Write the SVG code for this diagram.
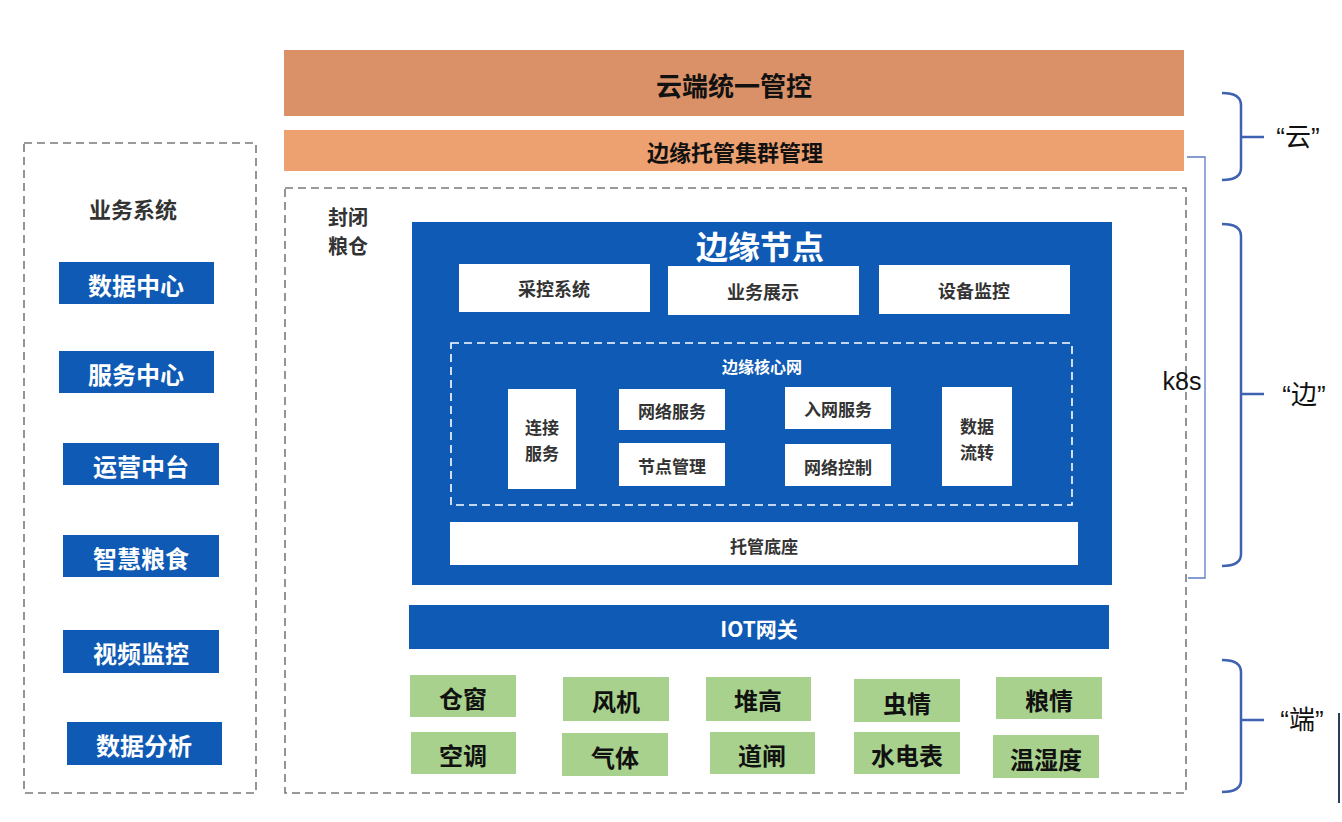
<svg xmlns="http://www.w3.org/2000/svg" width="1342" height="822" viewBox="0 0 1342 822">
<style>
text{font-family:"Noto Sans CJK SC","Liberation Sans",sans-serif;text-anchor:middle;dominant-baseline:central;font-weight:bold}
.blue{fill:#0F5AB4}
.white{fill:#FFFFFF}
.green{fill:#A9D18E}
.dash{fill:none;stroke:#7A7A7A;stroke-width:1.6;stroke-dasharray:8 5}
.wdash{fill:none;stroke:#FFFFFF;stroke-width:1.6;stroke-dasharray:8 5}
.wt{fill:#FFFFFF}
.dt{fill:#333333}
.bt{fill:#111111}
.brace{fill:none;stroke:#3F62B0;stroke-width:2.5}
.side{font-family:"Liberation Sans","Noto Sans CJK SC",sans-serif;font-weight:normal;fill:#111;font-size:26px}
</style>
<rect width="1342" height="822" fill="#FFFFFF"/>

<g id="cloud-control">
<rect x="284" y="50" width="900" height="66" fill="#DA9168"/>
<text x="734" y="84" font-size="26" class="bt">云端统一管控</text>
</g>
<g id="cluster-mgmt">
<rect x="284" y="130" width="900" height="41" fill="#EEA170"/>
<text x="735" y="151" font-size="22" class="bt">边缘托管集群管理</text>
</g>

<g id="business-system">
<rect x="24" y="143" width="232" height="650" class="dash"/>
<text x="133" y="208" font-size="22" class="dt">业务系统</text>
</g>
<g id="biz-data-center"><rect x="59" y="262" width="155" height="42" class="blue"/><text x="136" y="284" font-size="24" class="wt">数据中心</text></g>
<g id="biz-service-center"><rect x="59" y="351" width="155" height="42" class="blue"/><text x="136" y="373" font-size="24" class="wt">服务中心</text></g>
<g id="biz-ops"><rect x="63" y="443" width="156" height="42" class="blue"/><text x="141" y="465" font-size="24" class="wt">运营中台</text></g>
<g id="biz-smart-grain"><rect x="63" y="535" width="156" height="42" class="blue"/><text x="141" y="557" font-size="24" class="wt">智慧粮食</text></g>
<g id="biz-video"><rect x="63" y="630" width="156" height="43" class="blue"/><text x="141" y="652" font-size="24" class="wt">视频监控</text></g>
<g id="biz-analysis"><rect x="67" y="722" width="155" height="43" class="blue"/><text x="144" y="744" font-size="24" class="wt">数据分析</text></g>

<g id="granary">
<rect x="285" y="188" width="901" height="605" class="dash"/>
<text x="348" y="216" font-size="20" class="dt">封闭</text>
<text x="348" y="245" font-size="20" class="dt">粮仓</text>
</g>

<g id="edge-node">
<rect x="412" y="222" width="700" height="363" class="blue"/>
<text x="760" y="245" font-size="32" class="wt">边缘节点</text>
</g>
<g id="acq-control"><rect x="459" y="264" width="191" height="48" class="white"/><text x="554" y="288" font-size="18" class="dt">采控系统</text></g>
<g id="biz-display"><rect x="668" y="266" width="191" height="49" class="white"/><text x="763" y="291" font-size="18" class="dt">业务展示</text></g>
<g id="device-monitor"><rect x="879" y="265" width="191" height="49" class="white"/><text x="974" y="290" font-size="18" class="dt">设备监控</text></g>

<g id="edge-core-net">
<rect x="451" y="343" width="621" height="162" class="wdash"/>
<text x="762" y="366" font-size="16" class="wt">边缘核心网</text>
</g>
<g id="conn-service"><rect x="508" y="389" width="68" height="100" class="white"/><text x="542" y="426" font-size="17" class="dt">连接</text><text x="542" y="452" font-size="17" class="dt">服务</text></g>
<g id="net-service"><rect x="619" y="389" width="106" height="41" class="white"/><text x="672" y="410" font-size="17" class="dt">网络服务</text></g>
<g id="node-mgmt"><rect x="619" y="443" width="106" height="43" class="white"/><text x="672" y="465" font-size="17" class="dt">节点管理</text></g>
<g id="join-service"><rect x="785" y="387" width="106" height="42" class="white"/><text x="838" y="408" font-size="17" class="dt">入网服务</text></g>
<g id="net-control"><rect x="785" y="444" width="106" height="42" class="white"/><text x="838" y="466" font-size="17" class="dt">网络控制</text></g>
<g id="data-flow"><rect x="942" y="387" width="70" height="99" class="white"/><text x="977" y="425" font-size="17" class="dt">数据</text><text x="977" y="451" font-size="17" class="dt">流转</text></g>
<g id="hosted-base"><rect x="450" y="522" width="628" height="43" class="white"/><text x="764" y="545" font-size="17" class="dt">托管底座</text></g>

<g id="iot-gateway"><rect x="409" y="605" width="700" height="44" class="blue"/><text x="759" y="628" font-size="21" class="wt">IOT网关</text></g>

<g id="dev-window"><rect x="410" y="675" width="106" height="42" class="green"/><text x="463" y="697" font-size="24" class="bt">仓窗</text></g>
<g id="dev-fan"><rect x="563" y="677" width="106" height="44" class="green"/><text x="616" y="700" font-size="24" class="bt">风机</text></g>
<g id="dev-height"><rect x="706" y="677" width="105" height="44" class="green"/><text x="758" y="699" font-size="24" class="bt">堆高</text></g>
<g id="dev-insect"><rect x="854" y="679" width="106" height="43" class="green"/><text x="907" y="702" font-size="24" class="bt">虫情</text></g>
<g id="dev-grain"><rect x="996" y="677" width="106" height="42" class="green"/><text x="1049" y="699" font-size="24" class="bt">粮情</text></g>
<g id="dev-ac"><rect x="411" y="732" width="105" height="42" class="green"/><text x="463" y="754" font-size="24" class="bt">空调</text></g>
<g id="dev-gas"><rect x="562" y="733" width="106" height="43" class="green"/><text x="615" y="756" font-size="24" class="bt">气体</text></g>
<g id="dev-gate"><rect x="710" y="732" width="105" height="42" class="green"/><text x="762" y="754" font-size="24" class="bt">道闸</text></g>
<g id="dev-meter"><rect x="854" y="732" width="106" height="42" class="green"/><text x="907" y="754" font-size="24" class="bt">水电表</text></g>
<g id="dev-temp"><rect x="993" y="735" width="106" height="43" class="green"/><text x="1046" y="758" font-size="24" class="bt">温湿度</text></g>

<g id="connectors">
<path d="M1187,157 L1205,157 L1205,578 L1188,578" fill="none" stroke="#5B7CC2" stroke-width="1.3"/>
<path class="brace" d="M1222,93 Q1241,93 1241,105 L1241,168 Q1241,180 1222,180 M1241,137 L1264,137"/>
<path class="brace" d="M1222,224 Q1241,224 1241,236 L1241,554 Q1241,566 1222,566 M1241,394 L1264,394"/>
<path class="brace" d="M1222,660 Q1241,660 1241,672 L1241,780 Q1241,792 1222,792 M1241,720 L1264,720"/>
<line x1="1339" y1="713" x2="1339" y2="803" stroke="#2B3B5C" stroke-width="2"/>
</g>

<g id="labels">
<text x="1182" y="381" class="side" style="font-size:25px">k8s</text>
<text x="1298" y="137" class="side">“云”</text>
<text x="1304" y="395" class="side">“边”</text>
<text x="1302" y="720" class="side">“端”</text>
</g>
</svg>
